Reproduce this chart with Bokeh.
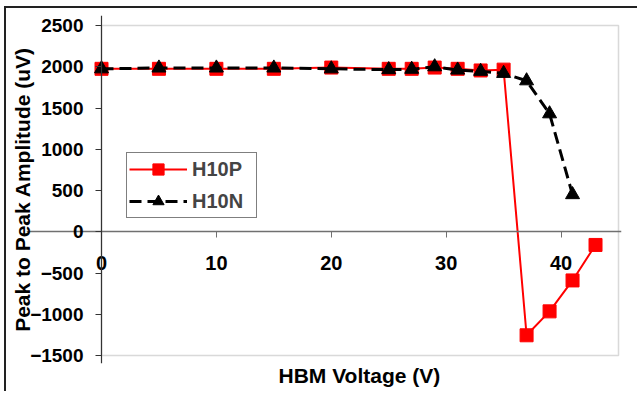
from bokeh.plotting import figure
from bokeh.models import (Range1d, FixedTicker, LinearAxis, Legend, LegendItem,
                          BoxAnnotation, Title)
from bokeh.embed import file_html
from bokeh.resources import INLINE

# ---- data ----
volt_p = [0, 5, 10, 15, 20, 25, 27, 29, 31, 33, 35, 37, 39, 41, 43]
amp_p = [1975, 1975, 1975, 1975, 1990, 1975, 1975, 1990, 1975, 1955, 1965,
         -1255, -965, -590, -160]
volt_n = [0, 5, 10, 15, 20, 25, 27, 29, 31, 33, 35, 37, 39, 41]
amp_n = [1975, 1985, 1985, 1985, 1975, 1965, 1970, 2000, 1960, 1945, 1920,
         1830, 1430, 450]
x_ticks = [0, 10, 20, 30, 40]
y_ticks = [-1500, -1000, -500, 0, 500, 1000, 1500, 2000, 2500]
series_names = ["H10P", "H10N"]
x_title = "HBM Voltage (V)"
y_title = "Peak to Peak Amplitude (uV)"

# axis limits of the plot area
X_MIN, X_MAX = 0, 45
Y_MIN, Y_MAX = -1500, 2500

FONT = "Liberation Sans"

# plot-area geometry in pixels (layout only); the frame extends past the
# plot area so that the axis labels drawn at fixed positions are not clipped
AREA_W, AREA_H = 517, 330
PAD_L, PAD_R, PAD_T, PAD_B = 75, 3, 10, 8
ux = (X_MAX - X_MIN) / AREA_W
uy = (Y_MAX - Y_MIN) / AREA_H

p = figure(width=633, height=385, output_backend="svg", toolbar_location=None,
           x_range=Range1d(X_MIN - PAD_L * ux, X_MAX + PAD_R * ux),
           y_range=Range1d(Y_MIN - PAD_B * uy, Y_MAX + PAD_T * uy),
           min_border_left=20, min_border_right=18, min_border_top=7,
           min_border_bottom=30, x_axis_location=None, y_axis_location=None)
p.styles = {"margin-left": "4px", "margin-top": "6px",
            "border-left": "2px solid #222222", "border-top": "2px solid #222222"}
p.grid.visible = False
p.outline_line_color = None
p.background_fill_color = "white"
p.border_fill_color = "white"

# plot-area border (gray)
area = BoxAnnotation(left=X_MIN, right=X_MAX, bottom=Y_MIN, top=Y_MAX,
                     fill_alpha=0, line_color="#808080", line_width=1.5,
                     level="underlay")
p.add_layout(area)

# y axis at x = 0
yax = LinearAxis(ticker=FixedTicker(ticks=y_ticks), fixed_location=X_MIN)
yax.axis_line_color = "#333333"
yax.axis_line_width = 1.2
yax.major_tick_line_color = "#333333"
yax.major_tick_out = 6
yax.major_tick_in = 0
yax.minor_tick_line_color = None
yax.major_label_standoff = 12
yax.major_label_text_font = FONT
yax.major_label_text_font_style = "bold"
yax.major_label_text_font_size = "19px"
yax.major_label_text_color = "black"
p.add_layout(yax, "left")

# y title holder axis
yt = LinearAxis(ticker=FixedTicker(ticks=[]), axis_label=y_title)
yt.axis_line_color = None
yt.major_tick_line_color = None
yt.minor_tick_line_color = None
yt.major_label_text_font_size = "0px"
yt.axis_label_text_font = FONT
yt.axis_label_text_font_style = "bold"
yt.axis_label_text_font_size = "21px"
yt.axis_label_text_color = "black"
yt.axis_label_standoff = -7
p.add_layout(yt, "left")

# x axis crossing at y = 0
xax = LinearAxis(ticker=FixedTicker(ticks=x_ticks), fixed_location=0)
xax.axis_line_color = "#707070"
xax.axis_line_width = 1.5
xax.major_tick_line_color = "#707070"
xax.major_tick_out = 6
xax.major_tick_in = 0
xax.minor_tick_line_color = None
xax.major_label_standoff = 18
xax.major_label_text_font = FONT
xax.major_label_text_font_style = "bold"
xax.major_label_text_font_size = "20px"
xax.major_label_text_color = "black"
p.add_layout(xax, "below")

# x title, centred under the plot area
p.add_layout(Title(text=x_title, align="left", offset=PAD_L + 177,
                   vertical_align="top", standoff=0, text_font=FONT,
                   text_font_style="bold", text_font_size="21px",
                   text_color="black"), "below")

# series
lp = p.line(volt_p, amp_p, line_color="#ff0000", line_width=2)
sp = p.scatter(volt_p, amp_p, marker="square", size=13, fill_color="#ff0000",
               line_color="#ff0000")
ln = p.line(volt_n, amp_n, line_color="black", line_width=3, line_dash="12 6")
sn = p.scatter(volt_n, amp_n, marker="triangle", size=14, fill_color="black",
               line_color="black")

legend = Legend(items=[LegendItem(label=series_names[0], renderers=[lp, sp]),
                       LegendItem(label=series_names[1], renderers=[ln, sn])],
                location=(100, 145))
legend.label_text_font = FONT
legend.label_text_font_style = "bold"
legend.label_text_font_size = "20px"
legend.glyph_width = 58
legend.glyph_height = 28
legend.label_width = 62
legend.label_standoff = 5
legend.spacing = 4
legend.padding = 2
legend.margin = 0
legend.border_line_color = "black"
legend.border_line_width = 1
legend.background_fill_color = "white"
legend.background_fill_alpha = 1
p.add_layout(legend, "center")

open("out.html", "w").write(file_html(p, INLINE))
